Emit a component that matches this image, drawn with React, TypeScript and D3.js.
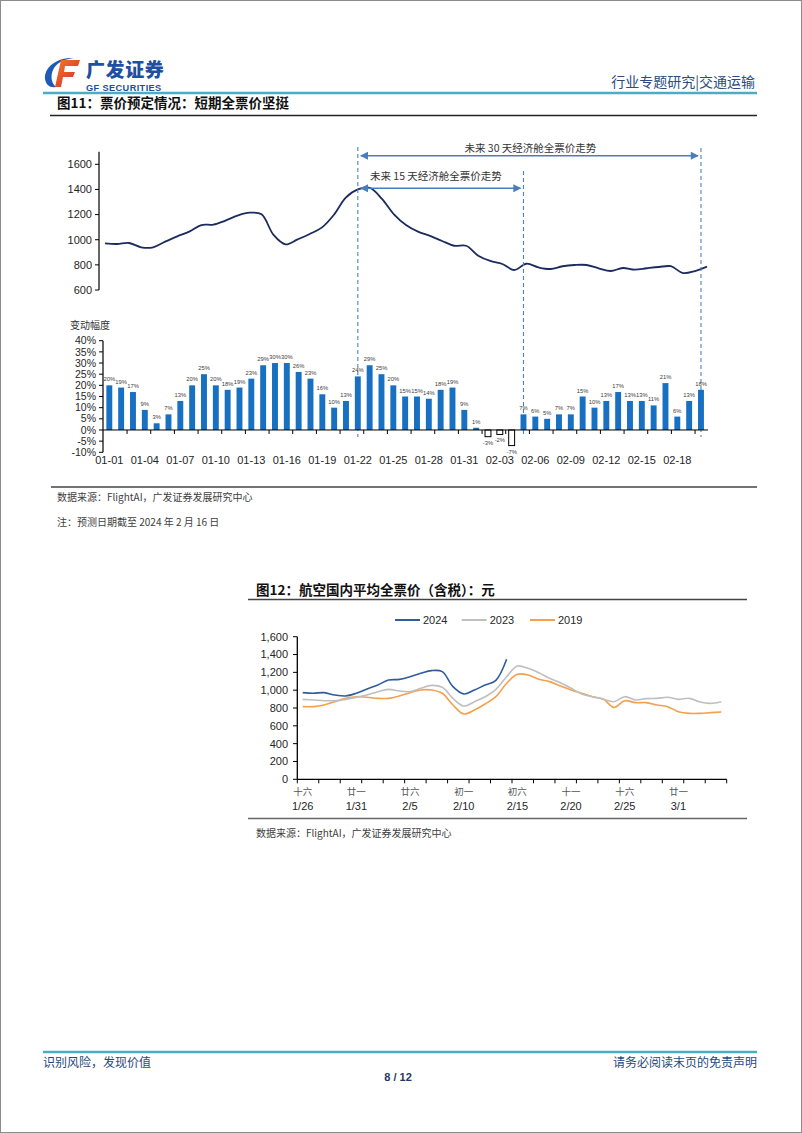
import React from "react";
import * as d3 from "d3";

// ---------- Figure 11 data ----------
const barDates = [
  "01-01","01-02","01-03","01-04","01-05","01-06","01-07","01-08","01-09","01-10",
  "01-11","01-12","01-13","01-14","01-15","01-16","01-17","01-18","01-19","01-20",
  "01-21","01-22","01-23","01-24","01-25","01-26","01-27","01-28","01-29","01-30",
  "01-31","02-01","02-02","02-03","02-04","02-05","02-06","02-07","02-08","02-09",
  "02-10","02-11","02-12","02-13","02-14","02-15","02-16","02-17","02-18","02-19","02-20",
];
const fareTrend = [
  971, 966, 974, 940, 940, 985, 1027, 1064, 1117, 1120, 1152, 1192, 1215, 1202, 1038,
  963, 1003, 1046, 1096, 1197, 1335, 1400, 1412, 1325, 1202, 1117, 1064, 1030, 990, 952,
  952, 873, 831, 807, 759, 809, 780, 767, 789, 799, 799, 773, 751, 775, 762, 773, 783,
  789, 735, 751, 786,
];
const changePct = [
  20, 19, 17, 9, 3, 7, 13, 20, 25, 20, 18, 19, 23, 29, 30, 30, 26, 23, 16, 10, 13,
  24, 29, 25, 20, 15, 15, 14, 18, 19, 9, 1, -3, -2, -7, 7, 6, 5, 7, 7, 15, 10, 13,
  17, 13, 13, 11, 21, 6, 13, 18,
];
const fareTicks = [600, 800, 1000, 1200, 1400, 1600];
const pctTicks = [-10, -5, 0, 5, 10, 15, 20, 25, 30, 35, 40];
const forecastStartIdx = 21;
const forecast15Idx = 35;
const forecast30Idx = 50;

// ---------- Figure 12 data ----------
const fig12Dates = [
  "1/26","1/27","1/28","1/29","1/30","1/31","2/1","2/2","2/3","2/4",
  "2/5","2/6","2/7","2/8","2/9","2/10","2/11","2/12","2/13","2/14",
  "2/15","2/16","2/17","2/18","2/19","2/20","2/21","2/22","2/23","2/24",
  "2/25","2/26","2/27","2/28","2/29","3/1","3/2","3/3","3/4","3/5",
];
const lunarLabels = ["十六", "廿一", "廿六", "初一", "初六", "十一", "十六", "廿一"];
const s2024 = [972, 966, 972, 946, 935, 966, 1014, 1058, 1114, 1121, 1151, 1189, 1219, 1208, 1040, 958, 1002, 1058, 1110, 1346];
const s2023 = [
  897, 890, 882, 882, 897, 920, 946, 983, 1009, 990, 983, 1021, 1054, 1032, 908, 822, 871, 927, 1009, 1151,
  1271, 1245, 1196, 1133, 1084, 1021, 957, 927, 897, 871, 927, 890, 905, 908, 920, 897, 908, 867, 852, 871,
];
const s2019 = [
  815, 815, 834, 871, 908, 927, 920, 908, 908, 934, 972, 1002, 1002, 965, 834, 733, 778, 845, 927, 1077,
  1178, 1170, 1122, 1096, 1047, 1002, 965, 927, 901, 807, 882, 860, 860, 834, 815, 759, 740, 740, 748, 755,
];
const fig12Ticks = [0, 200, 400, 600, 800, 1000, 1200, 1400, 1600];
const seriesNames = ["2024", "2023", "2019"];
const seriesColors = ["#2F5C9E", "#BFBFBF", "#F5A04A"];

const SANS = "Arial, 'Liberation Sans', 'Noto Sans CJK SC', sans-serif";
const CJK = "'Noto Sans CJK SC', 'Liberation Sans', sans-serif";
const TXT = "#262626";

export default function App() {
  // Figure 11 scales
  const xLine = d3.scalePoint<number>().domain(d3.range(fareTrend.length)).range([105, 707]);
  const yLine = d3.scaleLinear().domain([600, 1600]).range([290, 164.3]);
  const xBar = d3.scaleBand<number>().domain(d3.range(changePct.length)).range([103.4, 706.9]).paddingInner(0.5).paddingOuter(0.25);
  const xBarC = (i: number) => (xBar(i) as number) + xBar.bandwidth() / 2;
  const yBar = d3.scaleLinear().domain([-10, 40]).range([452.3, 340.7]);
  const step = xBar.step();

  const linePath = d3
    .line<number>()
    .x((_, i) => xLine(i) as number)
    .y((d) => yLine(d))
    .curve(d3.curveCatmullRom.alpha(0.5))(fareTrend) as string;

  // Figure 12 scales
  const x12 = d3.scaleBand<number>().domain(d3.range(fig12Dates.length)).range([297.3, 726.7]);
  const x12c = (i: number) => (x12(i) as number) + x12.bandwidth() / 2;
  const y12 = d3.scaleLinear().domain([0, 1600]).range([779.3, 636.7]);
  const mk = (arr: number[]) =>
    d3.line<number>().x((_, i) => x12c(i)).y((d) => y12(d)).curve(d3.curveCatmullRom.alpha(0.5))(arr) as string;
  const allSeries = [s2024, s2023, s2019];

  const fStart = xBarC(forecastStartIdx);
  const f15 = xBarC(forecast15Idx);
  const f30 = xBarC(forecast30Idx);

  return (
    <svg width={802} height={1133} style={{ position: "absolute", left: 0, top: 0, background: "#fff" }}>
      <defs>
        <marker id="ah" viewBox="0 0 10 10" refX="9" refY="5" markerWidth="9" markerHeight="8" markerUnits="userSpaceOnUse" orient="auto-start-reverse">
          <path d="M0,0 L10,5 L0,10 Z" fill="#4A7EBB" />
        </marker>
        <linearGradient id="fg" x1="0" y1="0" x2="1" y2="1">
          <stop offset="0" stopColor="#F07A2A" />
          <stop offset="1" stopColor="#D9262A" />
        </linearGradient>
      </defs>
      <rect x={0.5} y={0.5} width={801} height={1132} fill="#fff" stroke="#8C8C8C" />

      {/* Header */}
      <g>
        <path d="M74,58 C56,57 44,68 45,79 C46,85 50,88 56,87 C51,83 50,75 54,68 C58,62 65,59 74,58 Z" fill="#1E5BB8" />
        <path d="M61,60 L80,60 L78,66 L65,66 L64,72 L75,72 L73,77 L63,77 L61,87 L55,87 Z" fill="url(#fg)" />
        <text x={86} y={77} fontFamily={CJK} fontWeight={900} fontSize={19} fill="#1E4FA0" letterSpacing={0.6}>广发证券</text>
        <text x={86} y={91} fontFamily={SANS} fontWeight={700} fontSize={9.2} fill="#1E4FA0" letterSpacing={0.4}>GF SECURITIES</text>
        <text x={755} y={87} textAnchor="end" fontFamily={CJK} fontSize={14} fill="#2B4C7E">行业专题研究|交通运输</text>
        <line x1={43} x2={757} y1={93} y2={93} stroke="#4BACC6" strokeWidth={2.5} />
        <text x={57} y={108} fontFamily={CJK} fontWeight={700} fontSize={13.5} fill="#111">图11：票价预定情况：短期全票价坚挺</text>
        <line x1={50} x2={757} y1={115.5} y2={115.5} stroke="#222" strokeWidth={1.3} />
      </g>

      {/* Figure 11 - line chart */}
      <g>
        <line x1={99} x2={99} y1={yLine(1700)} y2={yLine(600)} stroke="#000" strokeWidth={1.2} />
        {fareTicks.map((t) => (
          <g key={t}>
            <line x1={95} x2={99} y1={yLine(t)} y2={yLine(t)} stroke="#000" />
            <text x={92} y={yLine(t)} dy="0.35em" textAnchor="end" fontFamily={SANS} fontSize={11} fill={TXT}>{t}</text>
          </g>
        ))}
        <path d={linePath} fill="none" stroke="#1C2B5E" strokeWidth={1.8} />

        {/* forecast dashed markers */}
        {[
          { x: fStart, y1: 147 },
          { x: f15, y1: 171 },
          { x: f30, y1: 148 },
        ].map((m, i) => (
          <line key={i} x1={m.x} x2={m.x} y1={m.y1} y2={437} stroke="#4F81BD" strokeWidth={1.1} strokeDasharray="4,3" />
        ))}
        <line x1={fStart + 3} x2={f30 - 3} y1={155.7} y2={155.7} stroke="#4A7EBB" strokeWidth={1.5} markerStart="url(#ah)" markerEnd="url(#ah)" />
        <line x1={fStart + 3} x2={f15 - 3} y1={188.3} y2={188.3} stroke="#4A7EBB" strokeWidth={1.5} markerStart="url(#ah)" markerEnd="url(#ah)" />
        <text x={(fStart + f30) / 2 + 1} y={148} dy="0.35em" textAnchor="middle" fontFamily={CJK} fontSize={10.5} fill="#333">未来 30 天经济舱全票价走势</text>
        <text x={370} y={176} dy="0.35em" fontFamily={CJK} fontSize={10.5} fill="#333">未来 15 天经济舱全票价走势</text>
      </g>

      {/* Figure 11 - bar chart */}
      <g>
        <text x={70} y={325} dy="0.35em" fontFamily={CJK} fontSize={10} fill="#333">变动幅度</text>
        <line x1={103} x2={103} y1={yBar(40)} y2={yBar(-10)} stroke="#000" strokeWidth={1.2} />
        {pctTicks.map((t) => (
          <g key={t}>
            <line x1={99} x2={103} y1={yBar(t)} y2={yBar(t)} stroke="#000" />
            <text x={96} y={yBar(t)} dy="0.35em" textAnchor="end" fontFamily={SANS} fontSize={10.5} fill={TXT}>{t}%</text>
          </g>
        ))}
        {changePct.map((v, i) => {
          const x = xBar(i) as number;
          const y0 = yBar(0);
          const y1 = yBar(v);
          const pos = v >= 0;
          return (
            <g key={i}>
              <rect
                x={x}
                y={Math.min(y0, y1)}
                width={xBar.bandwidth()}
                height={Math.abs(y1 - y0)}
                fill={pos ? "#1770C2" : "#fff"}
                stroke={pos ? "none" : "#000"}
                strokeWidth={1}
              />
              <text
                x={xBarC(i)}
                y={pos ? y1 - 6 : y1 + 6}
                dy="0.35em"
                textAnchor="middle"
                fontFamily={SANS}
                fontSize={5.8}
                fill="#404040"
              >
                {v}%
              </text>
            </g>
          );
        })}
        <line x1={103} x2={708} y1={yBar(0)} y2={yBar(0)} stroke="#000" strokeWidth={1} />
        {d3.range(1, changePct.length, 2).map((i) => {
          const bx = xBarC(i) + step / 2;
          return <line key={i} x1={bx} x2={bx} y1={yBar(0)} y2={yBar(0) + 4} stroke="#000" />;
        })}
        {barDates.map((d, i) =>
          i % 3 === 0 ? (
            <text key={d} x={xBarC(i)} y={460} dy="0.35em" textAnchor="middle" fontFamily={SANS} fontSize={11} fill={TXT}>{d}</text>
          ) : null
        )}
      </g>

      {/* Figure 11 source */}
      <line x1={51} x2={757} y1={487} y2={487} stroke="#444" strokeWidth={1.3} />
      <text x={57} y={497} dy="0.35em" fontFamily={CJK} fontSize={10} fill="#404040">数据来源：FlightAI，广发证券发展研究中心</text>
      <text x={57} y={522} dy="0.35em" fontFamily={CJK} fontSize={10} fill="#404040">注：预测日期截至 2024 年 2 月 16 日</text>

      {/* Figure 12 */}
      <g>
        <text x={256} y={590} dy="0.35em" fontFamily={CJK} fontWeight={700} fontSize={13.5} fill="#111">图12：航空国内平均全票价（含税）：元</text>
        <line x1={248} x2={747} y1={599.5} y2={599.5} stroke="#444" strokeWidth={1.3} />

        {seriesNames.map((n, i) => {
          const lx = [395, 461.7, 530][i];
          return (
            <g key={n}>
              <line x1={lx} x2={lx + 25} y1={620} y2={620} stroke={seriesColors[i]} strokeWidth={2} />
              <text x={lx + 28} y={620} dy="0.35em" fontFamily={SANS} fontSize={11} fill={TXT}>{n}</text>
            </g>
          );
        })}

        <line x1={297.3} x2={297.3} y1={y12(1600)} y2={y12(0)} stroke="#000" strokeWidth={1.3} />
        {fig12Ticks.map((t) => (
          <g key={t}>
            <line x1={293} x2={297.3} y1={y12(t)} y2={y12(t)} stroke="#000" />
            <text x={288} y={y12(t)} dy="0.35em" textAnchor="end" fontFamily={SANS} fontSize={11} fill={TXT}>{d3.format(",")(t)}</text>
          </g>
        ))}
        {allSeries
          .map((s, i) => ({ s, i }))
          .reverse()
          .map(({ s, i }) => (
            <path key={i} d={mk(s)} fill="none" stroke={seriesColors[i]} strokeWidth={1.6} />
          ))}
        <line x1={297.3} x2={726.7} y1={y12(0)} y2={y12(0)} stroke="#000" strokeWidth={1.3} />
        {d3.range(0, fig12Dates.length + 1, 2).map((k) => {
          const bx = 297.3 + k * x12.step();
          return <line key={k} x1={bx} x2={bx} y1={y12(0)} y2={y12(0) + 4} stroke="#000" />;
        })}
        {fig12Dates.map((d, i) =>
          i % 5 === 0 ? (
            <g key={d}>
              <text x={x12c(i)} y={791.5} dy="0.35em" textAnchor="middle" fontFamily={CJK} fontSize={9.5} fill="#555">{lunarLabels[i / 5]}</text>
              <text x={x12c(i)} y={806} dy="0.35em" textAnchor="middle" fontFamily={SANS} fontSize={11} fill={TXT}>{d}</text>
            </g>
          ) : null
        )}
        <line x1={248} x2={747} y1={818.5} y2={818.5} stroke="#666" strokeWidth={1.3} />
        <text x={256} y={833} dy="0.35em" fontFamily={CJK} fontSize={10} fill="#404040">数据来源：FlightAI，广发证券发展研究中心</text>
      </g>

      {/* Footer */}
      <line x1={43} x2={757} y1={1052} y2={1052} stroke="#4BACC6" strokeWidth={2.5} />
      <text x={43} y={1063} dy="0.35em" fontFamily={CJK} fontSize={12} fill="#1F497D">识别风险，发现价值</text>
      <text x={757} y={1063} dy="0.35em" textAnchor="end" fontFamily={CJK} fontSize={12} fill="#1F497D">请务必阅读末页的免责声明</text>
      <text x={398} y={1077} dy="0.35em" textAnchor="middle" fontFamily={SANS} fontWeight={700} fontSize={11} fill="#1F3A64">8 / 12</text>
    </svg>
  );
}
